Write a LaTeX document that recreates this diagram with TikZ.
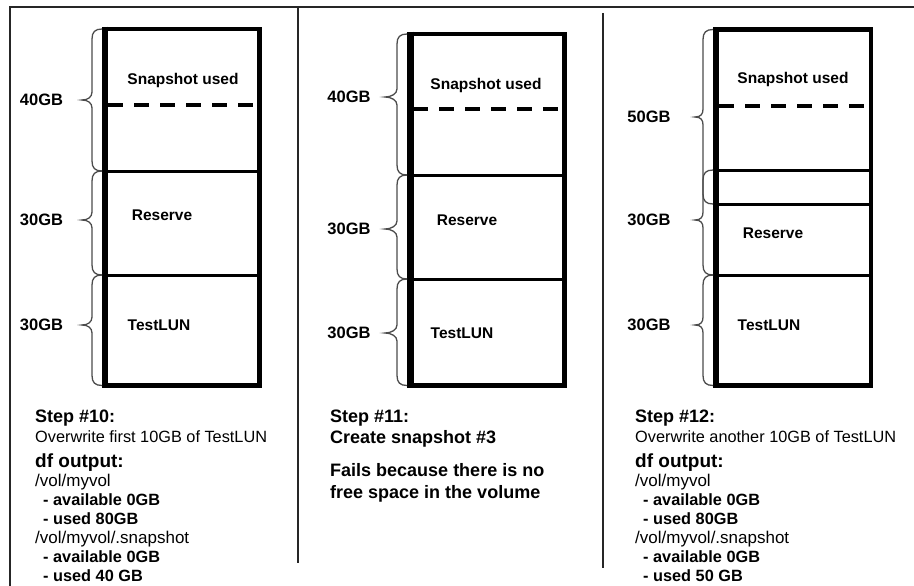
\documentclass[tikz,border=0pt]{standalone}
\usepackage{fontspec}
\setmainfont{Liberation Sans}
\newcommand{\gbr}[5]{% R, top, bottom, tip y, tip depth
  \draw[bracestyle] (#1,#2) .. controls ({#1-7},#2) and ({#1-10},{#2+3}) .. ({#1-10},{#2+10})
    -- ({#1-10},{#4-8}) .. controls ({#1-10},{#4-3}) and ({#1-#5+6},#4) .. ({#1-#5},#4)
    .. controls ({#1-#5+6},#4) and ({#1-10},{#4+3}) .. ({#1-10},{#4+8})
    -- ({#1-10},{#3-10}) .. controls ({#1-10},{#3-3}) and ({#1-7},#3) .. (#1,#3);
}
\tikzset{
  frameline/.style={line width=2pt, draw=black!85},
  boxouter/.style={line width=4.5pt, draw=black},
  boxleft/.style={line width=6.5pt, draw=black},
  divline/.style={line width=3pt, draw=black},
  dashline/.style={line width=4pt, draw=black, dash pattern=on 15pt off 11pt},
  bracestyle/.style={line width=1.3pt, draw=black!70},
  inlabel/.style={font=\fontsize{15.5}{18}\selectfont\bfseries, inner sep=0pt},
  sizelabel/.style={font=\fontsize{16.5}{18}\selectfont\bfseries, inner sep=0pt},
  stephead/.style={font=\fontsize{18}{20}\selectfont\bfseries, anchor=base west, inner sep=0pt},
  bodyreg/.style={font=\fontsize{16.3}{19}\selectfont, anchor=base west, inner sep=0pt},
  dfhead/.style={font=\fontsize{19}{22}\selectfont\bfseries, anchor=base west, inner sep=0pt},
  volline/.style={font=\fontsize{17}{19}\selectfont, anchor=base west, inner sep=0pt},
  dashitem/.style={font=\fontsize{16.3}{19}\selectfont\bfseries, anchor=base west, inner sep=0pt},
  ptwotext/.style={font=\fontsize{18}{20}\selectfont\bfseries, anchor=base west, inner sep=0pt},
}
\begin{document}
\begin{tikzpicture}[x=1pt,y=-1pt]
\useasboundingbox (0,0) rectangle (914,586);
% outer frame and dividers
\draw[frameline] (9.5,586) -- (9.5,7) -- (914,7);
\draw[frameline] (297.5,7) -- (297.5,563);
\draw[frameline] (603,13) -- (603,568);

% ---------- Panel 1 ----------
\draw[divline] (105,171) -- (259.5,171);
\draw[divline] (105,275) -- (259.5,275);
\draw[dashline] (108,105) -- (259.5,105);
\draw[boxouter] (105,29) rectangle (259.5,385.5);
\draw[boxleft] (105,26.75) -- (105,387.75);
\gbr{102}{29}{171}{100}{20}
\gbr{102}{171}{275}{220}{20}
\gbr{102}{275}{385.5}{325}{20}
\node[inlabel] (a1) at (183,80) {Snapshot used};
\node[inlabel] (a2) at (162,215) {Reserve};
\node[inlabel] (a3) at (159,325) {TestLUN};
\node[sizelabel] (a4) at (41.5,100) {40GB};
\node[sizelabel] (a5) at (41.5,220) {30GB};
\node[sizelabel] (a6) at (41.5,325) {30GB};
\node[stephead] (a7) at (35,422) {Step \#10:};
\node[bodyreg] (a8) at (35,442) {Overwrite first 10GB of TestLUN};
\node[dfhead] (a9) at (35,467) {df output:};
\node[volline] (a10) at (35,486) {/vol/myvol};
\node[dashitem] (a11) at (43,505) {- available 0GB};
\node[dashitem] (a12) at (43,524) {- used 80GB};
\node[volline] (a13) at (35,543) {/vol/myvol/.snapshot};
\node[dashitem] (a14) at (43,562) {- available 0GB};
\node[dashitem] (a15) at (43,581) {- used 40 GB};

% ---------- Panel 2 ----------
\draw[divline] (410.5,175) -- (564.5,175);
\draw[divline] (410.5,279) -- (564.5,279);
\draw[dashline] (413,109) -- (564.5,109);
\draw[boxouter] (410.5,34) rectangle (564.5,385.5);
\draw[boxleft] (410.5,31.75) -- (410.5,387.75);
\gbr{407}{34}{175}{97}{22}
\gbr{407}{175}{279}{229}{22}
\gbr{407}{279}{385.5}{333}{22}
\node[inlabel] (b1) at (486,85) {Snapshot used};
\node[inlabel] (b2) at (467,220) {Reserve};
\node[inlabel] (b3) at (462,333) {TestLUN};
\node[sizelabel] (b4) at (349,97) {40GB};
\node[sizelabel] (b5) at (349,229) {30GB};
\node[sizelabel] (b6) at (349,333) {30GB};
\node[ptwotext] (b7) at (330,422) {Step \#11:};
\node[ptwotext] (b8) at (330,443) {Create snapshot \#3};
\node[ptwotext] (b9) at (330,476) {Fails because there is no};
\node[ptwotext] (b10) at (330,498) {free space in the volume};

% ---------- Panel 3 ----------
\draw[divline] (716,170) -- (871,170);
\draw[divline] (716,204) -- (871,204);
\draw[divline] (716,275) -- (871,275);
\draw[dashline] (719,106) -- (871,106);
\draw[boxouter] (716,29.5) rectangle (871,385.5);
\draw[boxleft] (716,27.25) -- (716,387.75);
\gbr{713}{29.5}{204}{117}{18}
\gbr{713}{170}{275}{220}{18}
\gbr{713}{275}{385.5}{325}{18}
\node[inlabel] (c1) at (793,79) {Snapshot used};
\node[inlabel] (c2) at (773,233) {Reserve};
\node[inlabel] (c3) at (769,325) {TestLUN};
\node[sizelabel] (c4) at (649,117) {50GB};
\node[sizelabel] (c5) at (649,220) {30GB};
\node[sizelabel] (c6) at (649,325) {30GB};
\node[stephead] (c7) at (635,422) {Step \#12:};
\node[bodyreg] (c8) at (635,442) {Overwrite another 10GB of TestLUN};
\node[dfhead] (c9) at (635,467) {df output:};
\node[volline] (c10) at (635,486) {/vol/myvol};
\node[dashitem] (c11) at (643,505) {- available 0GB};
\node[dashitem] (c12) at (643,524) {- used 80GB};
\node[volline] (c13) at (635,543) {/vol/myvol/.snapshot};
\node[dashitem] (c14) at (643,562) {- available 0GB};
\node[dashitem] (c15) at (643,581) {- used 50 GB};
\end{tikzpicture}
\end{document}
